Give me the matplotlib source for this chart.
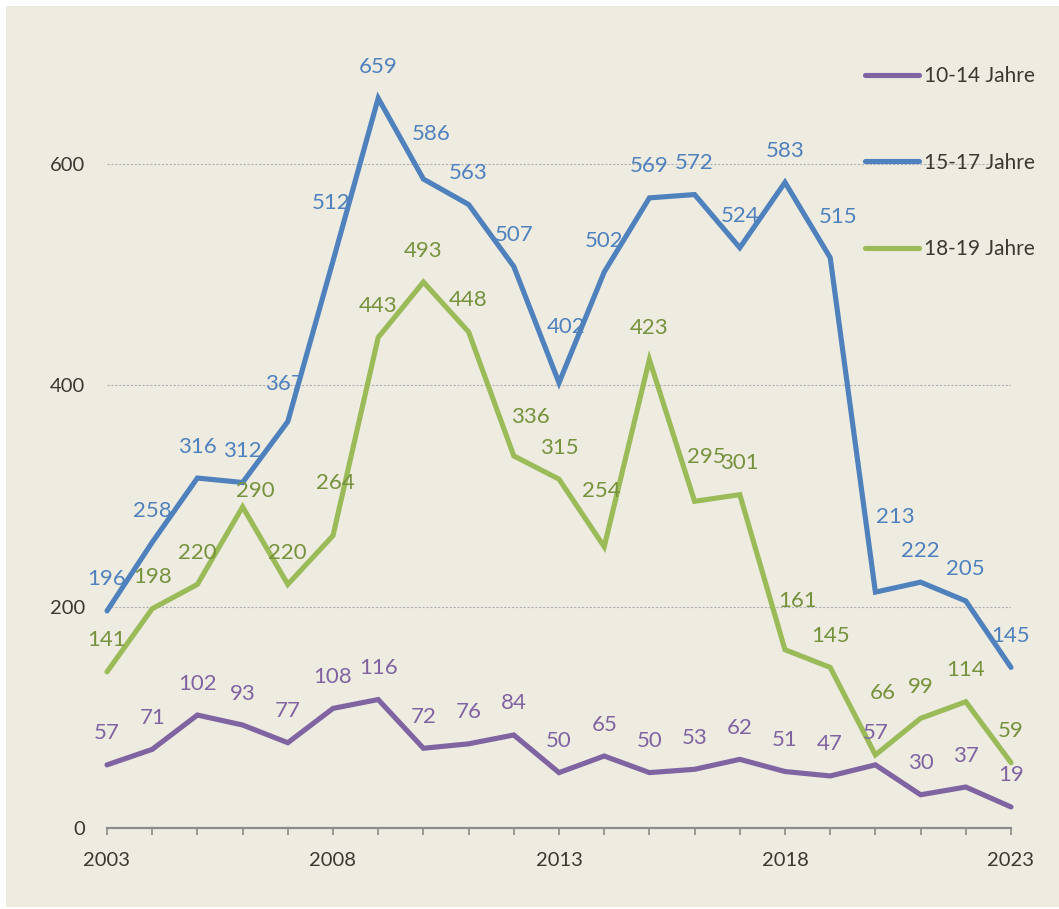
import matplotlib
matplotlib.use("Agg")
import matplotlib.pyplot as plt
from matplotlib.patches import Rectangle

plt.rcParams['font.family'] = ['Lato', 'DejaVu Sans']

years = list(range(2003, 2024))
age_10_14 = [57, 71, 102, 93, 77, 108, 116, 72, 76, 84, 50, 65, 50, 53, 62, 51, 47, 57, 30, 37, 19]
age_15_17 = [196, 258, 316, 312, 367, 512, 659, 586, 563, 507, 402, 502, 569, 572, 524, 583, 515, 213, 222, 205, 145]
age_18_19 = [141, 198, 220, 290, 220, 264, 443, 493, 448, 336, 315, 254, 423, 295, 301, 161, 145, 66, 99, 114, 59]
series_names = ["10-14 Jahre", "15-17 Jahre", "18-19 Jahre"]

BG = "#EEEBE1"
TXT = "#3B3731"
line_colors = ["#8064A2", "#4F81BD", "#9BBB59"]
label_colors = ["#8064A2", "#4F81BD", "#76923C"]

# label nudges in pixels (dx, dy) on top of the default "above" placement
nudges = [
    {},
    {2007: (-3, 6), 2008: (-2, 26), 2010: (8, 14), 2013: (7, 24), 2019: (8, 9), 2020: (20, 44)},
    {2006: (13, -16), 2008: (2, 21), 2012: (17, 7), 2014: (-3, 24), 2016: (12, 13),
     2018: (13, 17), 2020: (7, 30)},
]

fig = plt.figure(figsize=(10.59, 9.09), dpi=100, facecolor="white")
bg = Rectangle((6 / 1059, 0.002), 1.0, 1 - 6 / 909 - 0.002, transform=fig.transFigure,
               facecolor=BG, edgecolor="none", zorder=-10)
fig.add_artist(bg)
ax = fig.add_axes([107 / 1059, 1 - 828 / 909, (1011 - 107) / 1059, (828 - 52.8) / 909])
ax.set_facecolor("none")

for i, vals in enumerate([age_10_14, age_15_17, age_18_19]):
    ax.plot(years, vals, color=line_colors[i], lw=3.7, solid_joinstyle="miter",
            solid_capstyle="round", label=series_names[i], zorder=3, clip_on=False)
    for y, v in zip(years, vals):
        dx, dy = nudges[i].get(y, (0, 0))
        ax.annotate(str(v), (y, v), xytext=(dx, 31.5 + dy), textcoords="offset pixels",
                    ha="center", va="center", fontsize=16, color=label_colors[i], zorder=4)

ax.set_xlim(2003, 2023)
ax.set_ylim(0, 700)
ax.set_yticks([0, 200, 400, 600])
ax.set_xticks([2003, 2008, 2013, 2018, 2023])
ax.set_xticks(years, minor=True)
for yv in [200, 400, 600]:
    ax.axhline(yv, color="#B0B0B0", lw=0.8, ls=(0, (2, 1.5)), zorder=1)

for s in ["top", "right", "left"]:
    ax.spines[s].set_visible(False)
ax.spines["bottom"].set_color("#8C8C8C")
ax.spines["bottom"].set_linewidth(1.6)
ax.tick_params(axis="y", length=0, pad=16, labelsize=14.5, labelcolor=TXT)
ax.tick_params(axis="x", which="both", direction="out", length=5, width=1.2,
               color="#8C8C8C", pad=12, labelsize=14.5, labelcolor=TXT)

leg = ax.legend(loc="upper left", bbox_to_anchor=(865 / 1059, 1 - 66 / 909), bbox_transform=fig.transFigure,
                frameon=False, fontsize=15, handlelength=2.6, handletextpad=0.25,
                labelspacing=3.2, borderpad=0, borderaxespad=0)
for t in leg.get_texts():
    t.set_color(TXT)

fig.savefig("out.png", dpi=100, facecolor="white")
